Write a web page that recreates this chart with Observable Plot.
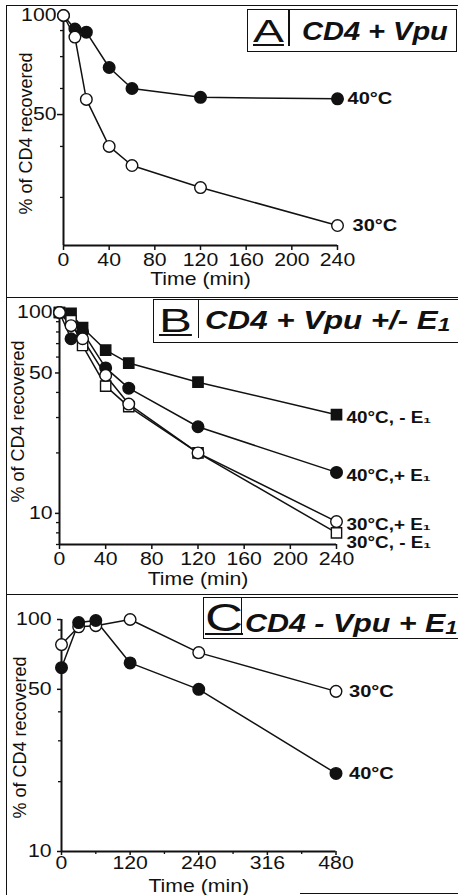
<!DOCTYPE html>
<html><head><meta charset="utf-8">
<script src="https://cdn.jsdelivr.net/npm/d3@7"></script>
<script src="https://cdn.jsdelivr.net/npm/@observablehq/plot@0.6"></script>
<style>
html,body{margin:0;padding:0;background:#fff;}
#fig{position:relative;width:458px;height:895px;overflow:hidden;background:#fff;font-family:"Liberation Sans",Arial,sans-serif;color:#111;}
.panel{position:absolute;left:0;width:458px;}
.panel svg{display:block;}
.hl{position:absolute;background:#111;}
.tbox{position:absolute;border:1.5px solid #111;box-sizing:border-box;background:#fff;overflow:hidden;}
.tbox .letter{position:absolute;font-weight:400;text-decoration:underline;text-decoration-thickness:2px;text-underline-offset:2px;transform-origin:0 0;line-height:1;white-space:nowrap;}
.tbox .bar{position:absolute;top:0;width:1.5px;background:#111;}
.tbox .ttl{position:absolute;font-weight:700;font-style:italic;transform-origin:0 0;line-height:1;white-space:nowrap;}
.tbox .ttl sub{font-size:0.72em;vertical-align:-0.12em;}
</style></head><body>
<div id="fig"></div>
<script>
// ---------- Panel A : CD4 + Vpu ----------
const timeA = [0, 10, 20, 40, 60, 120, 240];
const panelA_40C = [100, 91, 89, 69.5, 60, 56.4, 55.8];
const panelA_30C = [100, 86, 55.6, 40, 35, 30, 23];
const seriesA = ["40°C", "30°C"];
const xTicksA = [0, 40, 80, 120, 160, 200, 240];
const yTicksA = [50, 100];
const yMinorA = [28, 40, 60, 75, 90];

// ---------- Panel B : CD4 + Vpu +/- E1 ----------
const timeB = [0, 10, 20, 40, 60, 120, 240];
const panelB_40C_minusE1 = [100, 99, 84, 65, 56, 45, 31];
const panelB_40C_plusE1 = [100, 74, 80, 53, 42, 27, 16];
const panelB_30C_minusE1 = [100, 91, 68.5, 43, 34, 20, 8];
const panelB_30C_plusE1 = [100, 86, 74, 48.6, 35, 20, 9.1];
const seriesB = ["40°C, - E₁", "40°C,+ E₁", "30°C, - E₁", "30°C,+ E₁"];
const xTicksB = [0, 40, 80, 120, 160, 200, 240];
const yTicksB = [10, 50, 100];
const yMinorB = [7, 8, 9, 20, 30, 40, 60, 70, 80, 90];

// ---------- Panel C : CD4 - Vpu + E1 ----------
const timeC = [0, 30, 60, 120, 240, 480];
const panelC_30C = [78, 93, 94, 100, 72, 49];
const panelC_40C = [62, 97, 99, 65, 50, 21.7];
const seriesC = ["30°C", "40°C"];
const xTicksC = [0, 120, 240, 360, 480];
const xTickLabelsC = ["0", "120", "240", "316", "480"];
const xMinorC = [60, 180, 300, 420];
const yTicksC = [10, 50, 100];
const yMinorC = [20, 30, 40, 90];

const titles = [
  {letter: "A", text: "CD4 + Vpu", sub: ""},
  {letter: "B", text: "CD4 + Vpu +/- E", sub: "1"},
  {letter: "C", text: "CD4 - Vpu + E", sub: "1"}
];
const yTitle = "% of CD4 recovered";
const xTitle = "Time (min)";

// ---------- helpers ----------
const INK = "#111";
const STRETCH = 1.18; // horizontal text stretch seen in the reference
function rows(times, values, name, symbol, open) {
  return times.map((t, i) => ({t, v: values[i], name, symbol, open}));
}
function lastPoints(all) {
  const m = new Map();
  for (const d of all) m.set(d.name, d);
  return [...m.values()];
}
function stretchText(svg, s) {
  svg.querySelectorAll("text").forEach(t => {
    const tr = t.getAttribute("transform") || "";
    if (tr.includes("rotate")) return;
    if (tr) t.setAttribute("transform", tr + ` scale(${s},1)`);
    else {
      const x = t.getAttribute("x") || 0, y = t.getAttribute("y") || 0;
      t.removeAttribute("x"); t.removeAttribute("y");
      t.setAttribute("transform", `translate(${x},${y}) scale(${s},1)`);
    }
  });
}
const fig = document.getElementById("fig");
function place(node, top) {
  stretchText(node, STRETCH);
  const wrap = document.createElement("div");
  wrap.className = "panel";
  wrap.style.top = top + "px";
  wrap.appendChild(node);
  fig.appendChild(wrap);
}
function commonMarks(all, cfg) {
  return [
    Plot.ruleX([cfg.xDomain[0]], {stroke: INK, strokeWidth: 2}),
    Plot.ruleY([cfg.yDomain[0]], {stroke: INK, strokeWidth: 2}),
    Plot.axisY({ticks: cfg.yMinor, tickSize: 3, tickFormat: () => "", label: null, stroke: INK, strokeWidth: 1.3}),
    Plot.axisY({ticks: cfg.yTicks, tickSize: cfg.yTickSize, tickPadding: cfg.yTickPad, tickFormat: d => String(d), label: null, fontSize: 18, stroke: INK, strokeWidth: 1.5}),
    Plot.text([yTitle], {text: d => d, frameAnchor: "left", rotate: -90, textAnchor: "middle", lineAnchor: "middle", dx: cfg.yTitleDx, dy: cfg.yTitleDy, fontSize: 18, fill: INK}),
    Plot.text([xTitle], {text: d => d, frameAnchor: "bottom", textAnchor: "middle", lineAnchor: "middle", dy: cfg.xTitleDy, fontSize: 18, fill: INK}),
    Plot.line(all, {x: "t", y: "v", z: "name", stroke: INK, strokeWidth: 1.5}),
    Plot.dot(all, {x: "t", y: "v", symbol: "symbol", r: 5.8, fill: d => d.open ? "#ffffff" : INK, stroke: INK, strokeWidth: 1.4})
  ];
}
const style = {fontFamily: "'Liberation Sans', Arial, sans-serif", fontSize: "18px", color: INK, background: "transparent", overflow: "visible"};

// ---------- Panel A ----------
{
  const all = [
    ...rows(timeA, panelA_40C, seriesA[0], "circle", false),
    ...rows(timeA, panelA_30C, seriesA[1], "circle", true)
  ];
  const cfg = {xDomain: [0, 240], yDomain: [20, 100], yTicks: yTicksA, yMinor: yMinorA, yTickSize: 6, yTickPad: 1, yTitleDx: -37, yTitleDy: 3, xTitleDy: 34};
  const ends = lastPoints(all);
  const p = Plot.plot({
    width: 458, height: 297,
    marginLeft: 63, marginRight: 121, marginTop: 15, marginBottom: 52,
    x: {domain: cfg.xDomain, label: null},
    y: {type: "log", domain: cfg.yDomain, label: null},
    style,
    marks: [
      Plot.axisX({ticks: xTicksA, tickSize: 5, tickPadding: 3, label: null, fontSize: 18, stroke: INK, strokeWidth: 1.5}),
      ...commonMarks(all, cfg),
      Plot.text(ends.filter(d => d.name === seriesA[0]), {x: "t", y: "v", text: "name", dx: 10, textAnchor: "start", fontWeight: "bold", fontSize: 17, fill: INK}),
      Plot.text(ends.filter(d => d.name === seriesA[1]), {x: "t", y: "v", text: "name", dx: 15, textAnchor: "start", fontWeight: "bold", fontSize: 17, fill: INK})
    ]
  });
  place(p, 0);
}

// ---------- Panel B ----------
{
  const all = [
    ...rows(timeB, panelB_40C_minusE1, seriesB[0], "square", false),
    ...rows(timeB, panelB_40C_plusE1, seriesB[1], "circle", false),
    ...rows(timeB, panelB_30C_minusE1, seriesB[2], "square", true),
    ...rows(timeB, panelB_30C_plusE1, seriesB[3], "circle", true)
  ];
  const cfg = {xDomain: [0, 240], yDomain: [7, 100], yTicks: yTicksB, yMinor: yMinorB, yTickSize: 4, yTickPad: 3, yTitleDx: -41, yTitleDy: -7, xTitleDy: 35};
  const ends = lastPoints(all);
  const p = Plot.plot({
    width: 458, height: 297,
    marginLeft: 59, marginRight: 122, marginTop: 15, marginBottom: 50,
    x: {domain: cfg.xDomain, label: null},
    y: {type: "log", domain: cfg.yDomain, label: null},
    style,
    marks: [
      Plot.axisX({ticks: xTicksB, tickSize: 5, tickPadding: 3, label: null, fontSize: 18, stroke: INK, strokeWidth: 1.5}),
      ...commonMarks(all, cfg),
      Plot.text(ends.filter(d => d.name !== seriesB[2]), {x: "t", y: "v", text: "name", dx: 10, dy: 3, textAnchor: "start", fontWeight: "bold", fontSize: 16, fill: INK}),
      Plot.text(ends.filter(d => d.name === seriesB[2]), {x: "t", y: "v", text: "name", dx: 10, dy: 10, textAnchor: "start", fontWeight: "bold", fontSize: 16, fill: INK})
    ]
  });
  place(p, 297);
}

// ---------- Panel C ----------
{
  const all = [
    ...rows(timeC, panelC_30C, seriesC[0], "circle", true),
    ...rows(timeC, panelC_40C, seriesC[1], "circle", false)
  ];
  const cfg = {xDomain: [0, 480], yDomain: [10, 100], yTicks: yTicksC, yMinor: yMinorC, yTickSize: 4, yTickPad: 6, yTitleDx: -41, yTitleDy: 2, xTitleDy: 34.5};
  const ends = lastPoints(all);
  const p = Plot.plot({
    width: 458, height: 301,
    marginLeft: 61, marginRight: 122.5, marginTop: 25, marginBottom: 44,
    x: {domain: cfg.xDomain, label: null},
    y: {type: "log", domain: cfg.yDomain, label: null},
    style,
    marks: [
      Plot.axisX({ticks: xMinorC, tickSize: 3, tickFormat: () => "", label: null, stroke: INK, strokeWidth: 1.3}),
      Plot.axisX({ticks: xTicksC, tickSize: 4, tickPadding: 1, tickFormat: d => xTickLabelsC[xTicksC.indexOf(d)], label: null, fontSize: 18, stroke: INK, strokeWidth: 1.5}),
      ...commonMarks(all, cfg),
      Plot.text(ends, {x: "t", y: "v", text: "name", dx: 13, textAnchor: "start", fontWeight: "bold", fontSize: 17, fill: INK})
    ]
  });
  place(p, 594);
}

// ---------- panel frames ----------
function hline(x, y, w, h) {
  const d = document.createElement("div");
  d.className = "hl";
  Object.assign(d.style, {left: x + "px", top: y + "px", width: w + "px", height: h + "px"});
  fig.appendChild(d);
}
hline(5.5, 4.5, 460, 1.5);
hline(5.5, 4.5, 1.5, 900);
hline(5.5, 296.5, 460, 1.5);
hline(5.5, 593.5, 460, 1.5);
hline(300, 892.5, 160, 1.5);

// ---------- title boxes ----------
const boxes = [
  {left: 247, top: 9, w: 210, h: 43, fsL: 32, topL: 4.5, leftL: 4.5, scaleL: 1.45, bar: 40, barH: 36, fsT: 25, topT: 9.3, leftT: 53.5, scaleT: 1.16},
  {left: 153, top: 299, w: 306, h: 44, fsL: 34, topL: 2.8, leftL: 5, scaleL: 1.45, bar: 43.5, barH: 38, fsT: 25, topT: 8.3, leftT: 50.5, scaleT: 1.25},
  {left: 203, top: 597, w: 270, h: 42, fsL: 39, topL: 0.4, leftL: 0.5, scaleL: 1.35, bar: 36.5, barH: 36, fsT: 26, topT: 11.5, leftT: 40.5, scaleT: 1.17}
];
boxes.forEach((b, i) => {
  const box = document.createElement("div");
  box.className = "tbox";
  Object.assign(box.style, {left: b.left + "px", top: b.top + "px", width: b.w + "px", height: b.h + "px"});
  const L = document.createElement("span");
  L.className = "letter";
  L.textContent = titles[i].letter;
  Object.assign(L.style, {fontSize: b.fsL + "px", top: b.topL + "px", left: b.leftL + "px", transform: `scaleX(${b.scaleL})`});
  const bar = document.createElement("div");
  bar.className = "bar";
  Object.assign(bar.style, {left: b.bar + "px", height: b.barH + "px"});
  const T = document.createElement("span");
  T.className = "ttl";
  T.textContent = titles[i].text;
  if (titles[i].sub) {
    const s = document.createElement("sub");
    s.textContent = titles[i].sub;
    T.appendChild(s);
  }
  Object.assign(T.style, {fontSize: b.fsT + "px", top: b.topT + "px", left: b.leftT + "px", transform: `scaleX(${b.scaleT})`});
  box.append(L, bar, T);
  fig.appendChild(box);
});
</script>
</body></html>
